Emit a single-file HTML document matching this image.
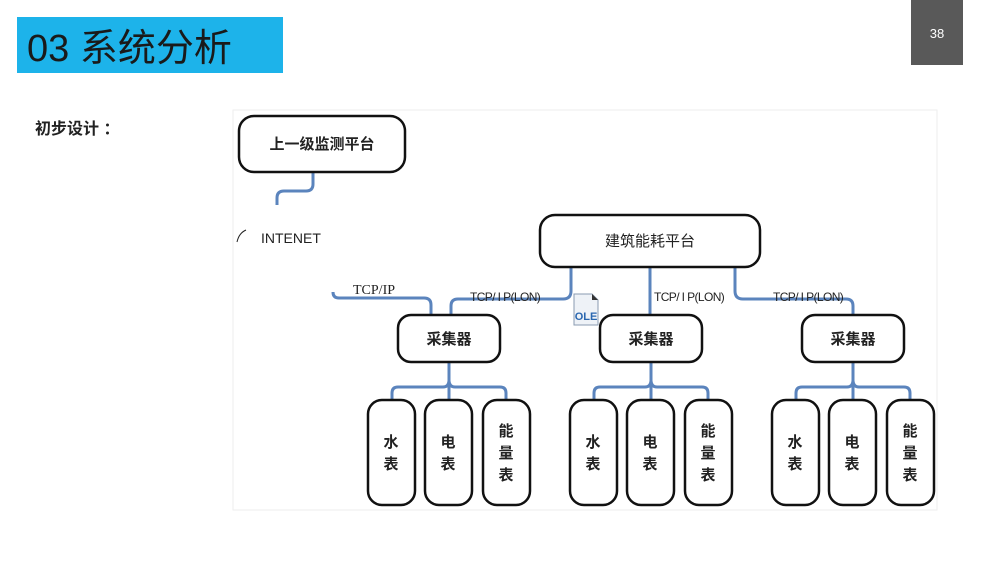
<!DOCTYPE html>
<html><head><meta charset="utf-8"><style>
html,body{margin:0;padding:0;background:#fff;}
svg{display:block;font-family:"Liberation Sans","Noto Sans CJK SC",sans-serif;}
</style></head><body>
<svg width="1000" height="563" viewBox="0 0 1000 563" xmlns="http://www.w3.org/2000/svg">
<rect x="17" y="17" width="266" height="56" fill="#1db3ea"/>
<text x="27" y="61" font-size="38" fill="#1a1a1a">03 系统分析</text>
<rect x="911" y="0" width="52" height="65" fill="#595959"/>
<text x="937" y="38" font-size="13" fill="#fff" text-anchor="middle">38</text>
<text x="35" y="134" font-size="16" font-weight="bold" fill="#222">初步设计 ：</text>
<rect x="233" y="110" width="704" height="400" fill="none" stroke="#eeeeee" stroke-width="1"/>

<g fill="none" stroke="#5b84bd" stroke-width="3">
<path d="M313 172 V184 Q313 191 306 191 H284 Q277 191 277 198 V205"/>
<path d="M333 292 Q333 298 339 298 H424 Q431 298 431 305 V315"/>
<path d="M571 267 V291 Q571 299 563 299 H458 Q451 299 451 306 V315"/>
<path d="M650 267 V315"/>
<path d="M735 267 V291 Q735 299 743 299 H846 Q853 299 853 306 V315"/>
<path d="M449 362 V387 M392 400 V393 Q392 387 398 387 H443 Q449 387 449 380 Q449 387 455 387 H500 Q506 387 506 393 V400 M449 387 V400"/>
<path d="M651 362 V387 M594 400 V393 Q594 387 600 387 H645 Q651 387 651 380 Q651 387 657 387 H702 Q708 387 708 393 V400 M651 387 V400"/>
<path d="M853 362 V387 M796 400 V393 Q796 387 802 387 H847 Q853 387 853 380 Q853 387 859 387 H904 Q910 387 910 393 V400 M853 387 V400"/>
</g>
<path d="M237 242 Q239 233 246 230" fill="none" stroke="#222" stroke-width="1"/>

<g fill="#fff" stroke="#111" stroke-width="2.5">
<rect x="239" y="116" width="166" height="56" rx="15"/>
<rect x="540" y="215" width="220" height="52" rx="15"/>
<rect x="398" y="315" width="102" height="47" rx="13"/>
<rect x="600" y="315" width="102" height="47" rx="13"/>
<rect x="802" y="315" width="102" height="47" rx="13"/>
<rect x="368" y="400" width="47" height="105" rx="14"/>
<rect x="425" y="400" width="47" height="105" rx="14"/>
<rect x="483" y="400" width="47" height="105" rx="14"/>
<rect x="570" y="400" width="47" height="105" rx="14"/>
<rect x="627" y="400" width="47" height="105" rx="14"/>
<rect x="685" y="400" width="47" height="105" rx="14"/>
<rect x="772" y="400" width="47" height="105" rx="14"/>
<rect x="829" y="400" width="47" height="105" rx="14"/>
<rect x="887" y="400" width="47" height="105" rx="14"/>
</g>

<g fill="#222" text-anchor="middle">
<text x="322" y="149" font-size="15" font-weight="bold">上一级监测平台</text>
<text x="650" y="246" font-size="15">建筑能耗平台</text>
<text x="449" y="344" font-size="15" font-weight="bold">采集器</text>
<text x="651" y="344" font-size="15" font-weight="bold">采集器</text>
<text x="853" y="344" font-size="15" font-weight="bold">采集器</text>
<g font-size="15" font-weight="bold">
<text x="391" y="447">水</text><text x="391" y="469">表</text>
<text x="448" y="447">电</text><text x="448" y="469">表</text>
<text x="506" y="436">能</text><text x="506" y="458">量</text><text x="506" y="480">表</text>
<text x="593" y="447">水</text><text x="593" y="469">表</text>
<text x="650" y="447">电</text><text x="650" y="469">表</text>
<text x="708" y="436">能</text><text x="708" y="458">量</text><text x="708" y="480">表</text>
<text x="795" y="447">水</text><text x="795" y="469">表</text>
<text x="852" y="447">电</text><text x="852" y="469">表</text>
<text x="910" y="436">能</text><text x="910" y="458">量</text><text x="910" y="480">表</text>
</g>
</g>
<text x="261" y="243" font-size="14" fill="#222">INTENET</text>
<text x="353" y="294" font-size="14" fill="#222" font-family="Liberation Serif, serif">TCP/IP</text>
<g font-size="12" fill="#222" letter-spacing="-0.6">
<text x="470" y="301">TCP/ I P(LON)</text>
<text x="654" y="301">TCP/ I P(LON)</text>
<text x="773" y="301">TCP/ I P(LON)</text>
</g>
<g>
<path d="M574 294 H592 L598 300 V325 H574 Z" fill="#eef2f7" stroke="#8a9bb0" stroke-width="1"/>
<path d="M592 294 L598 300 H592 Z" fill="#333"/>
<text x="586" y="320" font-size="11" font-weight="bold" fill="#2a67b0" text-anchor="middle">OLE</text>
</g>
</svg>
</body></html>
